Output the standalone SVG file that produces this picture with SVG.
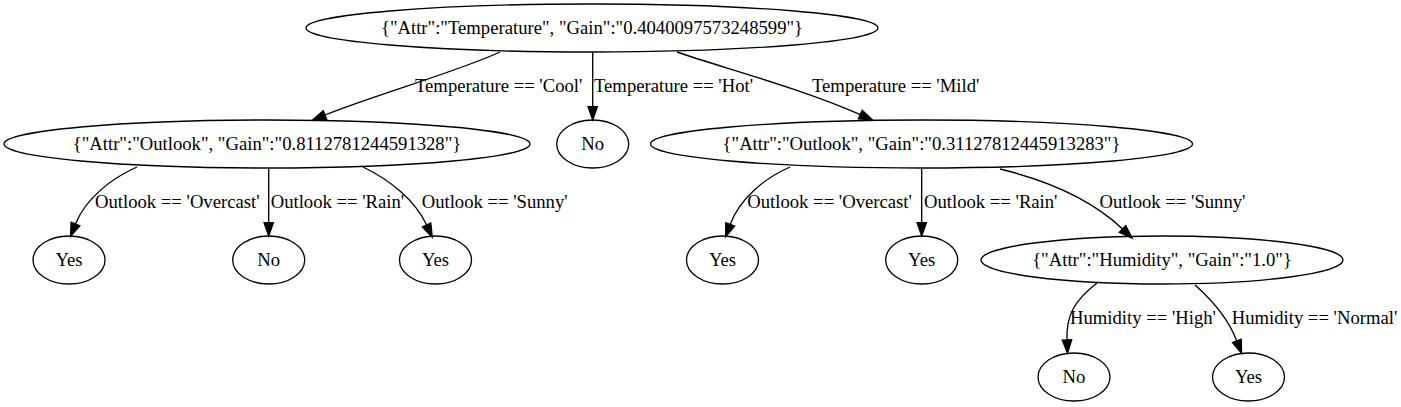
<svg xmlns="http://www.w3.org/2000/svg" width="1401" height="407" viewBox="0 0 1401 407">
<style>
.n ellipse{fill:none;stroke:#000;stroke-width:1.33}
text{font-family:"Liberation Serif","Times New Roman",serif;font-size:18.67px;fill:#000}
.n text{text-anchor:middle}
.e path{fill:none;stroke:#000;stroke-width:1.33;marker-end:url(#ah)}
</style>
<defs>
<marker id="ah" markerUnits="userSpaceOnUse" viewBox="-1 -6 16 12" refX="0" refY="0" markerWidth="16" markerHeight="12" orient="auto" overflow="visible">
<path d="M0,-4.67 L13.33,0 L0,4.67 Z" fill="#000" stroke="#000" stroke-width="1.33"/>
</marker>
</defs>
<rect width="1401" height="407" fill="#fff"/>
<g id="edges" class="e">
<path d="M500,52 C462,70 372,96 325,115"/>
<path d="M592.7,52 L592.7,106.7"/>
<path d="M677,52 C720,67 800,88 860.3,114.6"/>
<path d="M137,167 C112,178 86,198 75.5,224"/>
<path d="M268.7,168 L268.7,222.7"/>
<path d="M363,167 C390,180 415,200 426.6,225"/>
<path d="M790,167 C765,178 740,198 730.2,224.4"/>
<path d="M921.7,168 L921.7,222.7"/>
<path d="M1000,169 C1045,180 1090,198 1122.5,228.9"/>
<path d="M1097,283 C1075,300 1066,315 1067,340"/>
<path d="M1195,285 C1212,300 1228,318 1236.8,340.9"/>
</g>
<g id="edge-labels">
<text x="415" y="91.6">Temperature == 'Cool'</text>
<text x="594" y="91.6">Temperature == 'Hot'</text>
<text x="812" y="91.6">Temperature == 'Mild'</text>
<text x="95" y="207.6">Outlook == 'Overcast'</text>
<text x="270.7" y="207.6">Outlook == 'Rain'</text>
<text x="421.7" y="207.6">Outlook == 'Sunny'</text>
<text x="747.3" y="207.6">Outlook == 'Overcast'</text>
<text x="924" y="207.6">Outlook == 'Rain'</text>
<text x="1099.5" y="207.6">Outlook == 'Sunny'</text>
<text x="1070" y="323.6">Humidity == 'High'</text>
<text x="1231.7" y="323.6">Humidity == 'Normal'</text>
</g>
<g id="n_root" class="n"><ellipse cx="592" cy="28" rx="286" ry="24"/><text x="592" y="33.6">{"Attr":"Temperature", "Gain":"0.4040097573248599"}</text></g>
<g id="n_outlook_cool" class="n"><ellipse cx="267" cy="144" rx="263" ry="24"/><text x="267" y="149.6">{"Attr":"Outlook", "Gain":"0.8112781244591328"}</text></g>
<g id="n_hot_no" class="n"><ellipse cx="592.7" cy="144" rx="36" ry="24"/><text x="592.7" y="149.6">No</text></g>
<g id="n_outlook_mild" class="n"><ellipse cx="921.5" cy="144" rx="271" ry="24"/><text x="921.5" y="149.6">{"Attr":"Outlook", "Gain":"0.31127812445913283"}</text></g>
<g id="n_cool_overcast_yes" class="n"><ellipse cx="69" cy="260" rx="36" ry="24"/><text x="69" y="265.6">Yes</text></g>
<g id="n_cool_rain_no" class="n"><ellipse cx="268.7" cy="260" rx="36" ry="24"/><text x="268.7" y="265.6">No</text></g>
<g id="n_cool_sunny_yes" class="n"><ellipse cx="435.5" cy="260" rx="36" ry="24"/><text x="435.5" y="265.6">Yes</text></g>
<g id="n_mild_overcast_yes" class="n"><ellipse cx="722.5" cy="260" rx="36" ry="24"/><text x="722.5" y="265.6">Yes</text></g>
<g id="n_mild_rain_yes" class="n"><ellipse cx="921.7" cy="260" rx="36" ry="24"/><text x="921.7" y="265.6">Yes</text></g>
<g id="n_humidity" class="n"><ellipse cx="1162" cy="260" rx="181" ry="24"/><text x="1162" y="265.6">{"Attr":"Humidity", "Gain":"1.0"}</text></g>
<g id="n_high_no" class="n"><ellipse cx="1074" cy="377" rx="36" ry="24"/><text x="1074" y="382.6">No</text></g>
<g id="n_normal_yes" class="n"><ellipse cx="1248.5" cy="377" rx="36" ry="24"/><text x="1248.5" y="382.6">Yes</text></g>
</svg>
